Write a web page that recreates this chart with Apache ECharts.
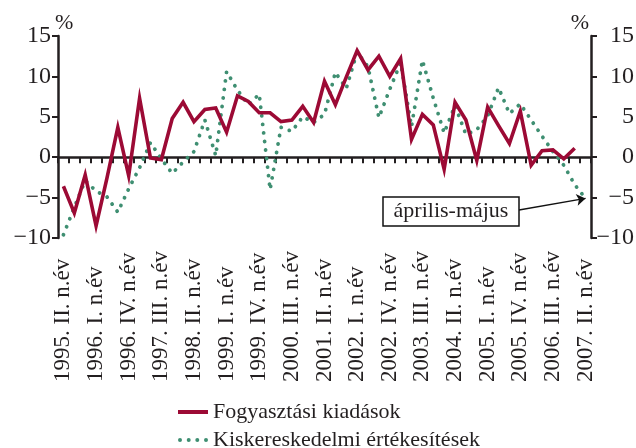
<!DOCTYPE html>
<html>
<head>
<meta charset="utf-8">
<script src="https://cdn.jsdelivr.net/npm/echarts@6/dist/echarts.min.js"></script>
<style>
  html, body { margin: 0; padding: 0; background: #fff; }
  #chart { width: 636px; height: 448px; }
</style>
</head>
<body>
<div id="chart"></div>
<script>
// negyedéves kategóriák: 1995. II. n.év ... 2007. II. n.év
const romans = ["I", "II", "III", "IV"];
const categories = [];
for (let y = 1995; y <= 2007; y++) {
  for (let q = 0; q < 4; q++) {
    if ((y === 1995 && q < 1) || (y === 2007 && q > 1)) continue;
    categories.push(y + ". " + romans[q] + ". n.év");
  }
}

// Fogyasztási kiadások (1995 Q2 – 2007 Q1)
const fogyasztas = [
  -3.6, -6.9, -2.2, -8.5, -2.6, 3.7, -2.3, 7.3, -0.1, -0.3,
  4.8, 6.8, 4.4, 5.9, 6.1, 3.1, 7.6, 6.9, 5.5, 5.5,
  4.4, 4.6, 6.3, 4.3, 9.4, 6.5, 9.9, 13.2, 10.8, 12.5,
  10.0, 12.2, 2.2, 5.3, 4.0, -1.5, 6.8, 4.6, -0.4, 6.2,
  3.9, 1.7, 5.7, -1.0, 0.8, 0.9, -0.2, 1.1
];

// Kiskereskedelmi értékesítések (1995 Q2 – 2007 április-május)
const kiskereskedelem = [
  -9.6, -6.2, -2.9, -4.2, -4.9, -6.8, -3.9, -1.3, 1.8, -0.2,
  -2.0, -0.6, 0.7, 4.6, 0.2, 10.6, 8.3, 6.5, 7.8, -4.0,
  3.7, 3.2, 5.0, 4.3, 5.3, 10.5, 8.5, 13.0, 11.2, 4.9,
  8.4, 11.7, 3.8, 12.0, 7.3, 3.0, 6.4, 2.8, 3.4, 5.1,
  8.6, 5.4, 6.6, 4.6, 2.6, 0.7, -1.0, -3.4, -5.1
];

const yTicks = { min: -10, max: 15, interval: 5 };

const FONT = "Liberation Serif";
const TXT = "#231f20";
const RED = "#9c0a35";
const GREEN = "#3f8f72";

const minus = v => (v < 0 ? "\u2212" + Math.abs(v) : String(v));

const chart = echarts.init(document.getElementById("chart"));

const lastIdx = kiskereskedelem.length - 1;

// jelmagyarázat ikonok
const lineIcon = "path://M0,0 L30,0 L30,4 L0,4 Z";
const dotIcon = "path://M0,2 a2,2 0 1,0 4,0 a2,2 0 1,0 -4,0 Z" +
  " M8.7,2 a2,2 0 1,0 4,0 a2,2 0 1,0 -4,0 Z" +
  " M17.3,2 a2,2 0 1,0 4,0 a2,2 0 1,0 -4,0 Z" +
  " M26,2 a2,2 0 1,0 4,0 a2,2 0 1,0 -4,0 Z";

const legendBase = {
  left: 173,
  itemWidth: 30,
  itemHeight: 4,
  itemTextGap: 11,
  selectedMode: false,
  textStyle: { fontFamily: FONT, fontSize: 22, color: TXT }
};

chart.setOption({
  animation: false,
  backgroundColor: "#fff",
  textStyle: { fontFamily: FONT, color: TXT },
  grid: { left: 58, right: 45, top: 36, bottom: 210, outerBoundsMode: "none" },
  legend: [
    Object.assign({}, legendBase, {
      top: 396,
      data: [{ name: "Fogyasztási kiadások", icon: lineIcon }]
    }),
    Object.assign({}, legendBase, {
      top: 424,
      data: [{ name: "Kiskereskedelmi értékesítések", icon: dotIcon }]
    })
  ],
  xAxis: [
    {
      // feliratok alul
      type: "category",
      data: categories,
      position: "bottom",
      boundaryGap: true,
      axisLine: { show: false, onZero: false },
      axisTick: { show: false },
      axisLabel: {
        interval: 2,
        rotate: 90,
        align: "left",
        margin: 144,
        fontFamily: FONT,
        fontSize: 23,
        color: TXT
      }
    },
    {
      // nullvonal osztásokkal
      type: "category",
      data: categories,
      position: "top",
      boundaryGap: true,
      axisLine: { show: true, onZero: true, lineStyle: { color: "#231f20", width: 2.5 } },
      axisTick: { show: true, inside: true, interval: 0, length: 6, lineStyle: { color: "#231f20", width: 2 } },
      axisLabel: { show: false }
    }
  ],
  yAxis: [
    {
      type: "value",
      min: yTicks.min,
      max: yTicks.max,
      interval: yTicks.interval,
      position: "left",
      name: "%",
      nameLocation: "end",
      nameGap: 2,
      nameMoveOverlap: false,
      nameTextStyle: { fontFamily: FONT, fontSize: 22, color: TXT, align: "left", padding: [0, 0, 0, -3] },
      axisLine: { show: true, lineStyle: { color: "#231f20", width: 2.5 } },
      axisTick: { show: true, length: 6, lineStyle: { color: "#231f20", width: 2 } },
      splitLine: { show: false },
      axisLabel: { margin: 7, fontFamily: FONT, fontSize: 24, color: TXT, formatter: minus }
    },
    {
      type: "value",
      min: yTicks.min,
      max: yTicks.max,
      interval: yTicks.interval,
      position: "right",
      name: "%",
      nameLocation: "end",
      nameGap: 2,
      nameMoveOverlap: false,
      nameTextStyle: { fontFamily: FONT, fontSize: 22, color: TXT, align: "right", padding: [0, 2, 0, 0] },
      axisLine: { show: true, lineStyle: { color: "#231f20", width: 2.5 } },
      axisTick: { show: true, length: 6, lineStyle: { color: "#231f20", width: 2 } },
      splitLine: { show: false },
      axisLabel: { margin: 43, align: "right", fontFamily: FONT, fontSize: 24, color: TXT, formatter: minus }
    }
  ],
  series: [
    {
      name: "Fogyasztási kiadások",
      type: "line",
      xAxisIndex: 0,
      yAxisIndex: 0,
      data: fogyasztas,
      symbol: "none",
      color: RED,
      lineStyle: { color: RED, width: 3.6, join: "miter" },
      z: 3
    },
    {
      name: "Kiskereskedelmi értékesítések",
      type: "line",
      xAxisIndex: 0,
      yAxisIndex: 0,
      data: kiskereskedelem,
      symbol: "none",
      color: GREEN,
      lineStyle: { color: GREEN, width: 3.8, type: [0.1, 8.5], cap: "round" },
      z: 2,
      markLine: {
        silent: true,
        symbol: ["none", "arrow"],
        symbolSize: 9,
        label: { show: false },
        lineStyle: { color: "#111", width: 1.3, type: "solid" },
        data: [
          [
            { x: 519, y: 210 },
            { coord: [categories[lastIdx], kiskereskedelem[lastIdx]] }
          ]
        ]
      }
    }
  ],
  graphic: [
    {
      type: "rect",
      z: 100,
      shape: { x: 383, y: 197, width: 136, height: 29 },
      style: { fill: "#fff", stroke: "#111", lineWidth: 1.5 }
    },
    {
      type: "text",
      z: 101,
      style: {
        x: 451,
        y: 211.5,
        text: "április-május",
        align: "center",
        verticalAlign: "middle",
        font: "22px 'Liberation Serif'",
        fill: TXT
      }
    }
  ]
});
</script>
</body>
</html>
